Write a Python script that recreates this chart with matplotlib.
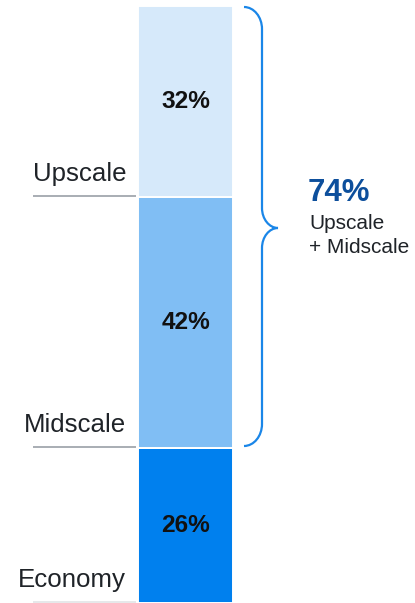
import matplotlib
matplotlib.use("Agg")
import matplotlib.pyplot as plt
from matplotlib.path import Path
from matplotlib.patches import PathPatch

plt.rcParams['font.family'] = ['Liberation Sans', 'DejaVu Sans']

categories = ["Economy", "Midscale", "Upscale"]
values = [26, 42, 32]
colors = ["#0080EE", "#80BEF4", "#D6E9FA"]
total_label = "74%"
total_caption = ["Upscale", "+ Midscale"]

W, H = 415, 603
fig = plt.figure(figsize=(W / 100, H / 100), dpi=100)

# bar axes
bar_left, bar_w, bar_top = 138, 95, 6
ax = fig.add_axes([bar_left / W, 0, bar_w / W, (H - bar_top) / H])
bottom = 0
for cat, v, c in zip(categories, values, colors):
    ax.bar(0, v, bottom=bottom, width=1.0, color=c, edgecolor="white", linewidth=1.4)
    ax.text(0, bottom + v / 2, f"{v}%", ha="center", va="center",
            fontsize=17.6, fontweight="bold", color="#111111")
    bottom += v
ax.set_xlim(-0.5, 0.5)
ax.set_ylim(0, 100)
ax.axis("off")

# overlay axes in pixel coordinates
ov = fig.add_axes([0, 0, 1, 1], zorder=5)
ov.set_xlim(0, W)
ov.set_ylim(H, 0)
ov.axis("off")
ov.patch.set_alpha(0)

def to_px(y_val):
    return bar_top + (100 - y_val) / 100 * (H - bar_top)

# left labels and separator lines
cum = 0
for cat, v in zip(categories, values):
    y_bottom_px = to_px(cum)
    ov.text(126, y_bottom_px - 16, cat, ha="right", va="baseline",
            fontsize=18.6, color="#1f2328")
    lc = "#a8adb3" if cum > 0 else "#e6e8ea"
    ov.plot([33, 136], [y_bottom_px - 1, y_bottom_px - 1], color=lc, lw=1.4,
            solid_capstyle="butt")
    cum += v

# brace
bc = "#1A86E8"
xl, xv, xt = 244, 262, 278
y0, ytip, y1 = 7, 228, 446
k = 0.55
ry = 22   # vertical extent of end hooks
rm = 20   # vertical extent of middle curves
dx1 = xv - xl
dx2 = xt - xv
verts = [
    (xl, y0),
    (xl + k * dx1, y0), (xv, y0 + ry - k * ry), (xv, y0 + ry),
    (xv, ytip - rm),
    (xv, ytip - rm + k * rm), (xt - k * dx2, ytip), (xt, ytip),
    (xt - k * dx2, ytip), (xv, ytip + rm - k * rm), (xv, ytip + rm),
    (xv, y1 - ry),
    (xv, y1 - ry + k * ry), (xl + k * dx1, y1), (xl, y1),
]
codes = [Path.MOVETO,
         Path.CURVE4, Path.CURVE4, Path.CURVE4,
         Path.LINETO,
         Path.CURVE4, Path.CURVE4, Path.CURVE4,
         Path.CURVE4, Path.CURVE4, Path.CURVE4,
         Path.LINETO,
         Path.CURVE4, Path.CURVE4, Path.CURVE4]
ov.add_patch(PathPatch(Path(verts, codes), facecolor="none", edgecolor=bc, lw=1.6))

ov.text(308, 201, total_label, ha="left", va="baseline", fontsize=22.5,
        fontweight="bold", color="#0D4F9C")
ov.text(309, 229, total_caption[0], ha="left", va="baseline", fontsize=15,
        color="#1f2328")
ov.text(309, 253, total_caption[1], ha="left", va="baseline", fontsize=15,
        color="#1f2328")

fig.savefig("out.png", dpi=100)
